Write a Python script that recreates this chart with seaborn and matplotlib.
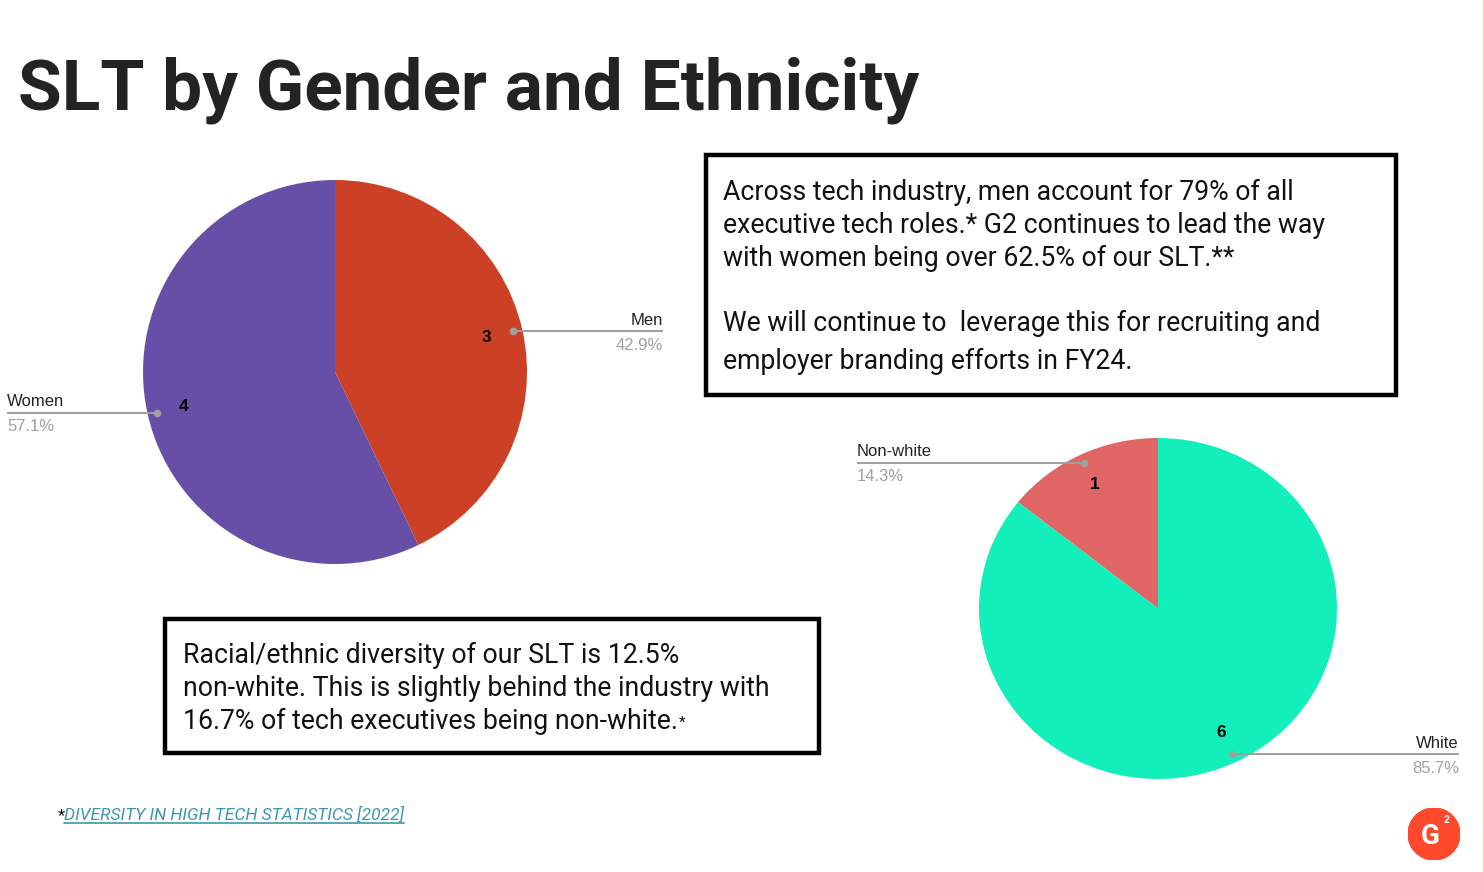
import numpy as np
import matplotlib
matplotlib.use("Agg")
import matplotlib.pyplot as plt
import seaborn as sns
from matplotlib.patches import Rectangle, Circle
from matplotlib.lines import Line2D

# ---------------- data ----------------
title = "SLT by Gender and Ethnicity"
gender_labels = ["Men", "Women"]
gender_counts = [3, 4]
gender_colors = ["#CC4125", "#674EA7"]
eth_labels = ["Non-white", "White"]
eth_counts = [1, 6]
eth_colors = ["#E06666", "#12EFBA"]
box1_lines = [
    "Across tech industry, men account for 79% of all",
    "executive tech roles.* G2 continues to lead the way",
    "with women being over 62.5% of our SLT.**",
    "We will continue to  leverage this for recruiting and",
    "employer branding efforts in FY24.",
]
box2_lines = [
    "Racial/ethnic diversity of our SLT is 12.5%",
    "non-white. This is slightly behind the industry with",
    "16.7% of tech executives being non-white.",
]
footnote = "DIVERSITY IN HIGH TECH STATISTICS [2022]"

# ---------------- style ----------------
sns.set_theme(style="white")
plt.rcParams["font.family"] = ["Liberation Sans", "DejaVu Sans"]

W, H = 1483, 872
fig = plt.figure(figsize=(W / 100, H / 100), dpi=100)
fig.patch.set_facecolor("white")


def fx(x):
    return x / W


def fy(y):
    return 1 - y / H


def px_axes(cx, cy, rx, ry):
    return fig.add_axes([(cx - rx) / W, 1 - (cy + ry) / H, 2 * rx / W, 2 * ry / H])


def draw_pie(ax, counts, labels, colors, counterclock, label_x):
    total = sum(counts)
    wedges, texts, autotexts = ax.pie(
        counts, colors=colors, startangle=90, counterclock=counterclock,
        autopct=lambda p: f"{round(p * total / 100)}", pctdistance=0.81,
        textprops=dict(fontsize=12.5, fontweight="bold", color="black"),
        wedgeprops=dict(linewidth=0))
    ax.set_aspect("auto")
    ax.set_xlim(-1, 1)
    ax.set_ylim(-1, 1)
    ax.axis("off")
    for w, lab, c in zip(wedges, labels, counts):
        ang = np.deg2rad((w.theta1 + w.theta2) / 2)
        x, y = 0.95 * np.cos(ang), 0.95 * np.sin(ang)
        lx = label_x if x > 0 else -label_x
        ax.plot([x, lx], [y, y], color="#9E9E9E", lw=1.4, clip_on=False,
                solid_capstyle="butt")
        ax.plot([x], [y], "o", color="#A0A0A0", ms=4.5, clip_on=False)
        ha = "right" if x > 0 else "left"
        ax.annotate(lab, (lx, y), xytext=(0, 4.5), textcoords="offset points",
                    ha=ha, va="baseline", fontsize=12, color="#222222",
                    annotation_clip=False)
        ax.annotate(f"{100 * c / total:.1f}%", (lx, y), xytext=(0, -4.5),
                    textcoords="offset points", ha=ha, va="top", fontsize=12,
                    color="#A0A0A0", annotation_clip=False)


ax1 = px_axes(335, 372, 192, 192)
draw_pie(ax1, gender_counts, gender_labels, gender_colors, False, 328 / 192)

ax2 = px_axes(1158, 608.5, 179, 170.5)
draw_pie(ax2, eth_counts, eth_labels, eth_colors, True, 301 / 179)

# ---------------- title ----------------
fig.text(fx(18), fy(110), title, fontsize=51.3, fontweight="bold",
         family=["Roboto", "DejaVu Sans"], color="#232323", va="baseline", ha="left")

# ---------------- boxes ----------------
box_font = dict(family=["Roboto", "DejaVu Sans"], fontsize=19.2, color="#111111",
                va="baseline", ha="left")
fig.patches.append(Rectangle((fx(706), fy(395)), (1396 - 706) / W, (395 - 155) / H,
                             transform=fig.transFigure, fill=False, lw=3.2,
                             edgecolor="black"))
for ln, yb in zip(box1_lines, [200, 233, 266, 331, 369]):
    fig.text(fx(723), fy(yb), ln, **box_font)

fig.patches.append(Rectangle((fx(165), fy(753)), (819 - 165) / W, (753 - 619) / H,
                             transform=fig.transFigure, fill=False, lw=3.2,
                             edgecolor="black"))
for i, (ln, yb) in enumerate(zip(box2_lines, [663, 696, 729])):
    t = fig.text(fx(183), fy(yb), ln, **box_font)
fig.canvas.draw()
bb = t.get_window_extent()
fig.text(bb.x1 / W + 1 / W, fy(727), "*", family=["Roboto", "DejaVu Sans"],
         fontsize=11, color="#111111", va="baseline", ha="left")

# ---------------- footnote ----------------
fig.text(fx(58), fy(820), "*", fontsize=12, color="#111111", va="baseline",
         family=["Roboto", "DejaVu Sans"])
ft = fig.text(fx(64), fy(820), footnote, fontsize=12.5, color="#3A97AD",
              style="italic", va="baseline", family=["Roboto", "DejaVu Sans"])
fig.canvas.draw()
fb = ft.get_window_extent()
fig.add_artist(Line2D([fb.x0 / W, fb.x1 / W], [fy(823), fy(823)],
                      transform=fig.transFigure, color="#3A97AD", lw=1.2))

# ---------------- logo ----------------
lax = fig.add_axes([fx(1408), fy(860), 52 / W, 52 / H])
lax.set_xlim(-1, 1)
lax.set_ylim(-1, 1)
lax.axis("off")
lax.add_patch(Circle((0, 0), 1, color="#FF492C"))
lax.text(-0.14, -0.1, "G", fontsize=20, fontweight="bold", color="white",
         ha="center", va="center", family=["Roboto", "DejaVu Sans"])
lax.text(0.5, 0.52, "2", fontsize=7.5, fontweight="bold", color="white",
         ha="center", va="center", family=["Roboto", "DejaVu Sans"])

fig.savefig("out.png", dpi=100, facecolor="white")
